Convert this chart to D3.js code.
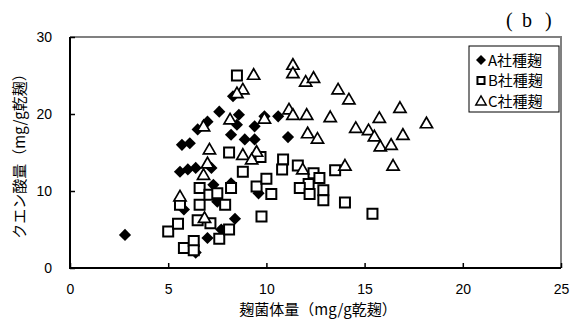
<!DOCTYPE html>
<html>
<head>
<meta charset="utf-8">
<script src="https://cdn.jsdelivr.net/npm/d3@7"></script>
<style>
  body { margin: 0; background: #fff; }
</style>
</head>
<body>
<div id="chart"></div>
<script>
// A社種麹 (diamonds)
const seriesA = [
  [2.8, 4.3], [5.6, 12.5], [6.0, 12.8], [6.4, 13.0], [5.7, 16.0], [6.1, 16.2],
  [6.5, 18.0], [7.0, 19.0], [7.6, 20.3], [8.3, 22.3], [8.6, 19.9], [8.5, 18.6],
  [8.2, 17.3], [9.4, 18.4], [9.9, 19.7], [10.6, 19.7], [8.9, 16.7], [9.4, 16.7],
  [11.1, 17.0], [7.2, 13.0], [7.3, 10.8], [8.2, 11.0], [9.6, 9.7], [8.4, 6.4],
  [7.7, 5.0], [7.0, 3.9], [6.4, 2.0], [5.8, 7.6], [7.5, 8.6]
];
// B社種麹 (squares)
const seriesB = [
  [5.0, 4.75], [5.5, 5.75], [5.8, 2.6], [6.3, 3.5], [6.3, 2.3], [6.5, 6.2],
  [7.15, 5.8], [7.6, 3.8], [8.1, 5.0], [5.6, 8.2], [6.6, 8.2], [7.9, 8.2],
  [6.6, 10.4], [7.1, 9.5], [7.5, 9.7], [8.2, 10.4], [8.1, 15.0], [8.8, 12.5],
  [9.5, 10.6], [10.0, 11.6], [10.25, 9.6], [9.75, 6.7], [9.7, 14.4], [10.85, 14.1],
  [10.8, 12.8], [11.6, 13.3], [12.4, 12.3], [12.15, 10.9], [11.7, 10.4], [12.2, 9.6],
  [12.7, 11.7], [12.9, 10.1], [12.9, 8.8], [13.5, 12.7], [14.0, 8.5], [15.4, 7.05],
  [8.5, 25.0]
];
// C社種麹 (triangles)
const seriesC = [
  [11.35, 26.4], [11.35, 25.3], [12.0, 24.2], [12.4, 24.7], [13.65, 23.2], [14.2, 21.9],
  [11.15, 20.6], [11.35, 19.9], [12.05, 19.9], [13.25, 19.6], [9.9, 19.4], [12.1, 17.5],
  [12.6, 16.8], [14.55, 18.2], [15.2, 17.9], [15.5, 17.1], [15.8, 15.8], [16.35, 16.0],
  [16.95, 17.3], [15.75, 19.5], [16.8, 20.8], [18.15, 18.8], [11.85, 12.8], [14.0, 13.3],
  [16.45, 13.3], [9.35, 25.1], [8.8, 23.2], [8.5, 22.7], [6.8, 18.4], [8.15, 19.3],
  [7.1, 15.4], [8.8, 14.7], [9.5, 15.1], [9.25, 14.1], [7.0, 13.6], [6.8, 12.1],
  [5.6, 9.3], [6.85, 6.5]
];
const seriesNames = ['A社種麹', 'B社種麹', 'C社種麹'];
const xTicks = [0, 5, 10, 15, 20, 25];
const yTicks = [0, 10, 20, 30];

const W = 572, H = 323;
const m = { left: 70, right: 561, top: 37, bottom: 268 };
const jp = '"Noto Sans CJK JP", sans-serif';
const num = '"Liberation Sans", Arial, sans-serif';

const svg = d3.select('#chart').append('svg')
  .attr('width', W)
  .attr('height', H);

const x = d3.scaleLinear().domain([0, 25]).range([m.left, m.right]);
const y = d3.scaleLinear().domain([0, 30]).range([m.bottom, m.top]);

// frame: gray top/right, black left/bottom
svg.append('path')
  .attr('d', `M${m.left},${m.top}H${m.right}V${m.bottom}`)
  .attr('fill', 'none')
  .attr('stroke', '#808080')
  .attr('stroke-width', 2);

const xAxis = svg.append('g')
  .attr('transform', `translate(0,${m.bottom})`)
  .call(d3.axisBottom(x).tickValues(xTicks).tickSizeInner(-5).tickSizeOuter(0).tickPadding(16));
const yAxis = svg.append('g')
  .attr('transform', `translate(${m.left},0)`)
  .call(d3.axisLeft(y).tickValues(yTicks).tickSizeInner(-5).tickSizeOuter(0).tickPadding(18));

[xAxis, yAxis].forEach(g => {
  g.select('.domain').remove();
  g.selectAll('line').attr('stroke', '#000').attr('stroke-width', 1.5);
  g.selectAll('text').style('font-family', num).style('font-size', '14px').attr('fill', '#000');
});

svg.append('path')
  .attr('d', `M${m.left},${m.top}V${m.bottom}H${m.right}`)
  .attr('fill', 'none')
  .attr('stroke', '#000')
  .attr('stroke-width', 2);

// markers
const diamond = d3.symbol().type(d3.symbolSquare).size(74);
const square = d3.symbol().type(d3.symbolSquare).size(100);
const triangle = d3.symbol().type(d3.symbolTriangle).size(64);

svg.append('g').selectAll('path')
  .data(seriesA)
  .enter().append('path')
  .attr('d', diamond)
  .attr('transform', d => `translate(${x(d[0])},${y(d[1])}) rotate(45)`)
  .attr('fill', '#000');

svg.append('g').selectAll('path')
  .data(seriesB)
  .enter().append('path')
  .attr('d', square)
  .attr('transform', d => `translate(${x(d[0])},${y(d[1])})`)
  .attr('fill', '#fff')
  .attr('stroke', '#000')
  .attr('stroke-width', 2);

svg.append('g').selectAll('path')
  .data(seriesC)
  .enter().append('path')
  .attr('d', triangle)
  .attr('transform', d => `translate(${x(d[0])},${y(d[1]) + 1})`)
  .attr('fill', '#fff')
  .attr('stroke', '#000')
  .attr('stroke-width', 1.7);

// legend
const lg = svg.append('g').attr('transform', 'translate(469,46)');
lg.append('rect')
  .attr('width', 90)
  .attr('height', 66)
  .attr('fill', '#fff')
  .attr('stroke', '#000')
  .attr('stroke-width', 1);

const legendMarks = [
  { sym: d3.symbol().type(d3.symbolSquare).size(50)(), rot: 45, fill: '#000', stroke: 'none', sw: 0 },
  { sym: d3.symbol().type(d3.symbolSquare).size(50)(), rot: 0, fill: '#fff', stroke: '#000', sw: 2 },
  { sym: d3.symbol().type(d3.symbolTriangle).size(48)(), rot: 0, fill: '#fff', stroke: '#000', sw: 1.4 }
];
seriesNames.forEach((name, i) => {
  const cy = 14 + i * 20.5;
  const mk = legendMarks[i];
  lg.append('path')
    .attr('d', mk.sym)
    .attr('transform', `translate(12,${cy + (i === 2 ? 1 : 0)}) rotate(${mk.rot})`)
    .attr('fill', mk.fill)
    .attr('stroke', mk.stroke)
    .attr('stroke-width', mk.sw);
  lg.append('text')
    .attr('x', 19)
    .attr('y', cy + 5.5)
    .style('font-family', jp)
    .style('font-size', '15px')
    .text(name);
});

// panel label
const lbl = svg.append('text')
  .attr('y', 27)
  .style('font-family', '"Liberation Serif", serif')
  .style('font-size', '20px');
[['(', 506], ['b', 522], [')', 545]].forEach(([c, px]) => {
  lbl.append('tspan').attr('x', px).text(c);
});

svg.append('text')
  .attr('x', 318)
  .attr('y', 315)
  .style('font-family', jp)
  .style('font-size', '15px')
  .style('text-anchor', 'middle')
  .text('麹菌体量（mg/g乾麹）');

svg.append('text')
  .attr('transform', 'rotate(-90)')
  .attr('x', -(m.top + m.bottom) / 2)
  .attr('y', 25)
  .style('font-family', jp)
  .style('font-size', '15px')
  .style('text-anchor', 'middle')
  .text('クエン酸量（mg/g乾麹）');
</script>
</body>
</html>
